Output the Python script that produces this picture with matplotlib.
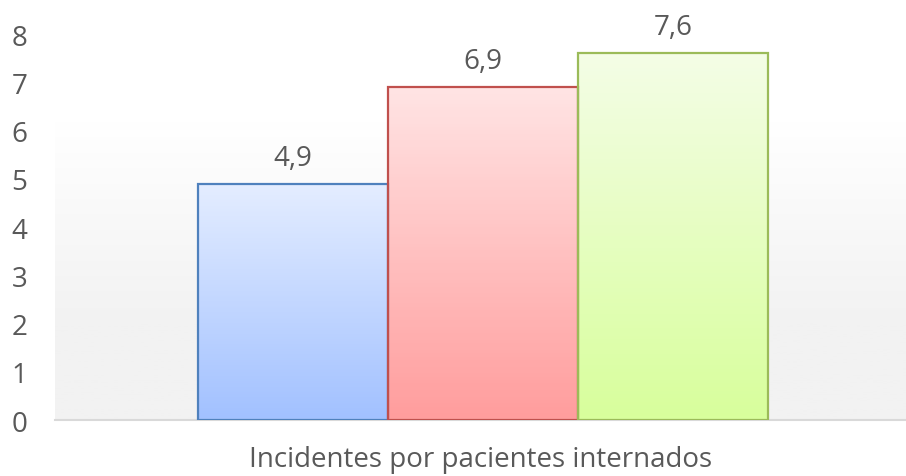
import numpy as np
import matplotlib.pyplot as plt
from matplotlib.colors import LinearSegmentedColormap

categories = ["Serie 1", "Serie 2", "Serie 3"]
values = [4.9, 6.9, 7.6]
value_labels = ["4,9", "6,9", "7,6"]
axis_title = "Incidentes por pacientes internados"
yticks = [0, 1, 2, 3, 4, 5, 6, 7, 8]

edge_colors = ["#4f81bd", "#c0504d", "#9bbb59"]
top_colors = ["#e4edff", "#ffe4e4", "#f4fde6"]
bottom_colors = ["#a2c1ff", "#ff9d9d", "#d8ff9c"]

plt.rcParams["font.family"] = ["Open Sans", "DejaVu Sans"]
text_color = "#595959"

fig = plt.figure(figsize=(9.06, 4.77), dpi=100)
ax = fig.add_axes([0.0607, 0.1174, 0.9393, 0.8092])
ax.set_xlim(-1.253, 3.226)
ax.set_ylim(0, 8)

# plot area background: white on top fading into light gray
grad = np.interp(np.linspace(8, 0, 200), [0, 2.0, 6.2, 8], [1.0, 1.0, 0.0, 0.0])[:, None]
bg_cmap = LinearSegmentedColormap.from_list("bg", ["#ffffff", "#f2f2f2"])
ax.imshow(grad, cmap=bg_cmap, aspect="auto", extent=(-1.253, 3.226, 0, 8),
          zorder=0, vmin=0, vmax=1)

x = np.arange(len(values))
bars = ax.bar(x, values, width=1.0, color="none", edgecolor=edge_colors,
              linewidth=1.6, zorder=3)

for bar, top, bottom in zip(bars, top_colors, bottom_colors):
    cmap = LinearSegmentedColormap.from_list("g", [bottom, top])
    x0, y0 = bar.get_x(), bar.get_y()
    w, h = bar.get_width(), bar.get_height()
    im = ax.imshow(np.linspace(1, 0, 100)[:, None], cmap=cmap, aspect="auto",
                   extent=(x0, x0 + w, y0, y0 + h), zorder=2, vmin=0, vmax=1)
    im.set_clip_path(bar)

for xi, v, lab in zip(x, values, value_labels):
    ax.text(xi, v + 0.25, lab, ha="center", va="bottom", fontsize=20,
            color=text_color, clip_on=False)

ax.set_yticks(yticks)
ax.set_yticklabels([str(t) for t in yticks], fontsize=20, color=text_color)
ax.tick_params(axis="y", length=0, pad=20)
ax.set_xticks([])
ax.set_xlabel(axis_title, fontsize=20, color=text_color, labelpad=18)

for side in ["top", "right", "left"]:
    ax.spines[side].set_visible(False)
ax.spines["bottom"].set_color("#d9d9d9")
ax.spines["bottom"].set_linewidth(1.5)

fig.savefig("out.png", dpi=100)
